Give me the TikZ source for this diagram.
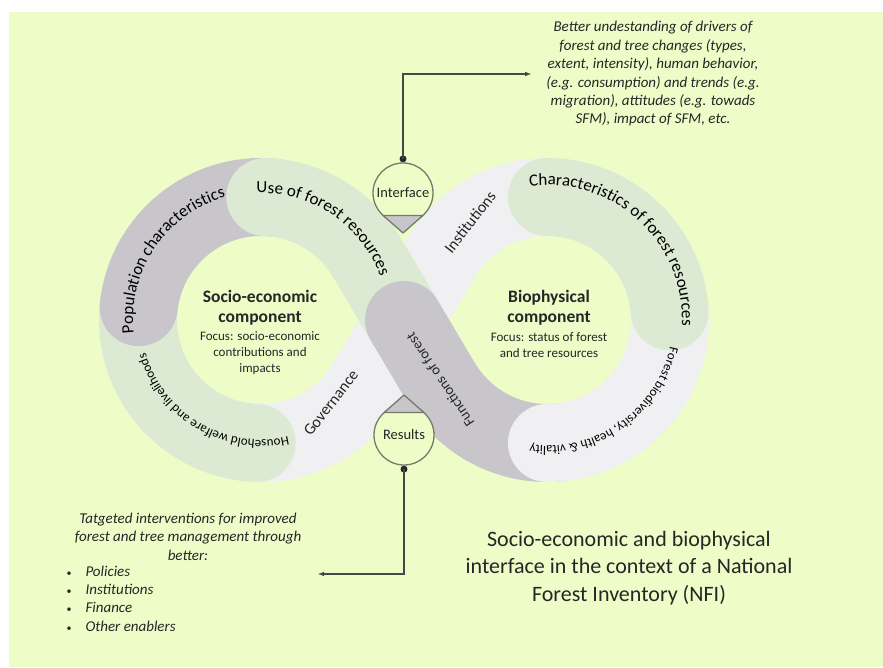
\documentclass[tikz,border=0pt]{standalone}
\usepackage{fontspec}
\setmainfont{Carlito}
\usetikzlibrary{decorations.text,positioning}

\definecolor{paper}{RGB}{238,252,200}
\definecolor{ribgray}{RGB}{200,198,203}
\definecolor{ribgreen}{RGB}{221,234,211}
\definecolor{ribwhite}{RGB}{240,240,242}
\definecolor{dropline}{RGB}{118,122,104}
\definecolor{ink}{RGB}{38,38,38}

\newcommand{\bandbig}{\fontsize{17}{20}\selectfont}
\newcommand{\bandsmall}{\fontsize{13}{16}\selectfont}

\begin{document}
\begin{tikzpicture}[x=1pt, y=1pt, text=ink,
    band/.style={line width=78pt, line cap=round},
    ringtext/.style={decorate, decoration={text along path, text align=center}},
    droptext/.style={circle, draw=dropline, fill=paper, line width=1.3pt, minimum size=60pt, inner sep=0pt, font=\fontsize{14.5}{17}\selectfont},
    wedge/.style={draw=dropline, fill=ribgray, line width=1.3pt, line join=round},
    wire/.style={draw=ink!85, line width=1.1pt},
    note/.style={font=\fontsize{15}{18.4}\selectfont\itshape, align=center}]
    \useasboundingbox (0,0) rectangle (883,667);
    % Page
    \fill[white] (0,0) rectangle (883,667);
    \fill[paper] (9,0) rectangle (883,655);

    % Loop centres and tangent points
    \coordinate (cl) at (261,347);
    \coordinate (cr) at (547,347);
    \coordinate (mid) at (404,347);
    \coordinate (tl3) at ([shift={(-30.67:123)}]cl);
    \coordinate (tr2) at ([shift={(210.67:123)}]cr);

    % Ribbon, drawn from the bottom layer up
    \draw[band, ribwhite] ([shift={(88:123)}]cr) arc[start angle=88, end angle=149.33, radius=123] -- (tl3) arc[start angle=-30.67, end angle=-100, radius=123];
    \draw[band, ribgreen] ([shift={(268:123)}]cl) arc[start angle=268, end angle=170, radius=123];
    \draw[band, ribgray] ([shift={(174:123)}]cl) arc[start angle=174, end angle=84, radius=123];
    \draw[band, ribgreen] ([shift={(88:123)}]cl) arc[start angle=88, end angle=30.67, radius=123] -- (mid);
    \draw[band, ribgray] (mid) -- (tr2) arc[start angle=210.67, end angle=275, radius=123];
    \draw[band, ribwhite] ([shift={(270:123)}]cr) arc[start angle=270, end angle=365, radius=123];
    \draw[band, ribgreen] ([shift={(90:123)}]cr) arc[start angle=90, end angle=4, radius=123];

    % Curved labels
    \path[ringtext, decoration={text={|\bandbig|Use of forest resources}}] ([shift={(110:127)}]cl) arc[start angle=110, end angle=2, radius=127];
    \path[ringtext, decoration={text={|\bandbig|Population characteristics}}] ([shift={(200:128)}]cl) arc[start angle=200, end angle=92, radius=128];
    \path[ringtext, decoration={text={|\bandsmall|Household welfare and livelihoods}}] ([shift={(295:120)}]cl) arc[start angle=295, end angle=184, radius=120];
    \path[ringtext, decoration={text={|\bandbig|Characteristics of forest resources}}] ([shift={(105:135)}]cr) arc[start angle=105, end angle=-10, radius=135];
    \path[ringtext, decoration={text={|\bandsmall|Forest biodiversity, health {\&} vitality}}] ([shift={(5:126)}]cr) arc[start angle=5, end angle=-115, radius=126];

    % Straight labels
    \node[rotate=124, font=\fontsize{14.5}{17}\selectfont] (funcs) at (440,287) {Functions of forest};
    \node[rotate=52, font=\fontsize{16}{19}\selectfont] (gov) at (331,264) {Governance};
    \node[rotate=52, font=\fontsize{16}{19}\selectfont] (inst) at (470,445) {Institutions};

    % Components
    \node[font=\fontsize{17.5}{20}\selectfont\bfseries, align=center] (socio) at (260,359) {Socio-economic\\component};
    \node[font=\fontsize{13}{16}\selectfont, align=center] (sociofocus) at (260,314) {Focus: socio-economic\\contributions and\\impacts};
    \node[font=\fontsize{17.5}{20}\selectfont\bfseries, align=center] (bio) at (549,359.5) {Biophysical\\component};
    \node[font=\fontsize{13}{16}\selectfont, align=center] (biofocus) at (549,322) {Focus: status of forest\\and tree resources};

    % Interface drop
    \node[droptext] (intf) at (403,474) {Interface};
    \filldraw[wedge] ([shift={(-48.6:30)}]intf.center) -- ([shift={(0,-40)}]intf.center) -- ([shift={(-131.4:30)}]intf.center) -- cycle;
    \coordinate (intfdot) at ([yshift=3.5]intf.north);
    \fill[ink] (intfdot) circle[radius=3.5];

    % Results drop
    \node[droptext] (res) at (404,232) {Results};
    \filldraw[wedge] ([shift={(48.6:30)}]res.center) -- ([shift={(0,40)}]res.center) -- ([shift={(131.4:30)}]res.center) -- cycle;
    \coordinate (resdot) at ([yshift=-3.5]res.south);
    \fill[ink] (resdot) circle[radius=3.5];

    % Notes
    \node[note, inner xsep=15pt] (drivers) at (653,593) {Better undestanding of drivers of\\forest and tree changes (types,\\extent, intensity), human behavior,\\(e.g. consumption) and trends (e.g.\\migration), attitudes (e.g. towads\\SFM), impact of SFM, etc.};
    \node[note] (aims) at (188,130.5) {Tatgeted interventions for improved\\forest and tree management through\\better:};
    \node[note, anchor=west] (aimlist) at (63,67) {\begin{tabular}{@{}l@{\hspace{14pt}}l@{}}{\upshape\fontsize{10}{12}\selectfont\textbullet} & Policies\\ {\upshape\fontsize{10}{12}\selectfont\textbullet} & Institutions\\ {\upshape\fontsize{10}{12}\selectfont\textbullet} & Finance\\ {\upshape\fontsize{10}{12}\selectfont\textbullet} & Other enablers\end{tabular}};
    \coordinate (restip) at (318,93);

    % Connectors
    \draw[wire, -latex] (intfdot) |- (drivers.west);
    \draw[wire, -latex] (resdot) |- (restip);

    % Title
    \node[font=\fontsize{22}{27.5}\selectfont, align=center] (title) at (629,99) {Socio-economic and biophysical\\interface in the context of a National\\Forest Inventory (NFI)};
\end{tikzpicture}
\end{document}
